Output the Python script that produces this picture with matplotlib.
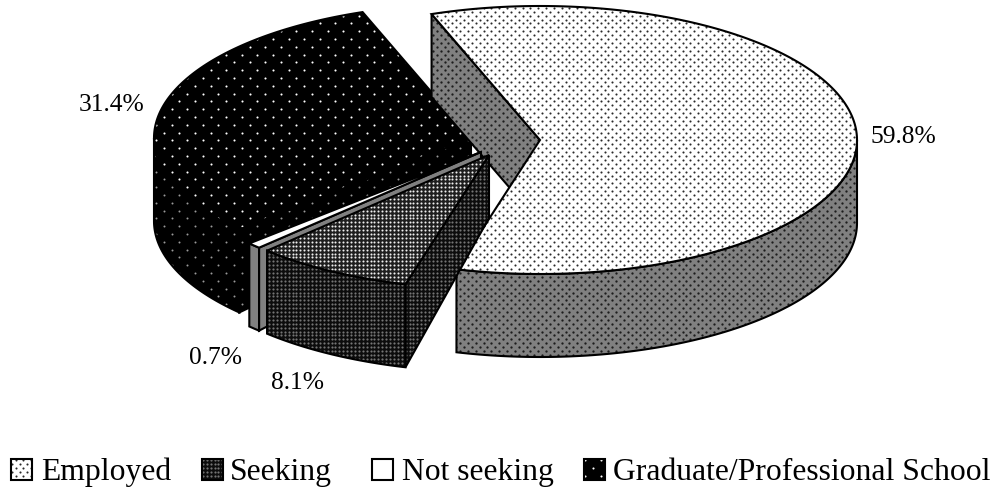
import numpy as np
import matplotlib
matplotlib.use("Agg")
import matplotlib.pyplot as plt
from matplotlib.patches import Polygon

categories = ["Employed", "Seeking", "Not seeking", "Graduate/Professional School"]
values = [59.8, 8.1, 0.7, 31.4]
value_labels = ["59.8%", "8.1%", "0.7%", "31.4%"]

START = -20.0
RX, RY = 317.0, 134.0
RIM_D, APEX_D = 83.0, 63.0
CENTERS = {"Employed": (540, 140), "Seeking": (489, 155), "Not seeking": (481, 152),
           "Graduate/Professional School": (471, 138)}
# (face, dot colour, column step, row step, staggered, dot diameter in px)
TOPS = {"Employed": ("white", "#2a2a2a", 7.8, 3.9, True, 2.1),
        "Seeking": ("#1e1e1e", "#eeeeee", 3.9, 3.9, False, 2.1),
        "Not seeking": ("white", None, 0, 0, False, 0),
        "Graduate/Professional School": ("black", "white", 15.6, 7.8, True, 2.1)}
WALLS = {"Employed": ("#808080", "#1c1c1c", 7.8, 3.9, True, 2.3),
         "Seeking": ("#0c0c0c", "#747474", 3.9, 3.9, False, 2.2),
         "Not seeking": ("#808080", None, 0, 0, False, 0),
         "Graduate/Professional School": ("black", "#9a9a9a", 15.6, 7.8, True, 2.0)}
LABEL_POS = {"59.8%": (903, 137), "8.1%": (297, 383), "0.7%": (216, 358), "31.4%": (112, 105)}
LEGEND_BOX = [11, 201.5, 372, 584]
LEGEND_TXT = [41, 230, 402, 613]
BOX = 21

plt.rcParams["font.family"] = ["Liberation Serif", "DejaVu Serif"]
fig = plt.figure(figsize=(10, 4.91), dpi=100)
ax = fig.add_axes([0, 0, 1, 1])
ax.set_xlim(0, 1000)
ax.set_ylim(491, 0)
ax.axis("off")
LW = 1.5

def pt(c, a, dy=0.0):
    r = np.radians(a)
    return np.array([c[0] + RX * np.sin(r), c[1] - RY * np.cos(r) + dy])

def arc(c, a0, a1, dy=0.0):
    n = max(2, int(abs(a1 - a0)) * 2)
    return np.array([pt(c, a, dy) for a in np.linspace(a0, a1, n)])

def texture(patch, xy, style, z):
    fc, dc, sx, sy, stag, d = style
    if dc is None:
        return
    xy = np.asarray(xy, float)
    xs, ys = [], []
    row0 = int(np.floor(xy[:, 1].min() / sy)) - 1
    row1 = int(np.ceil(xy[:, 1].max() / sy)) + 1
    for r in range(row0, row1 + 1):
        off = sx / 2 if (stag and r % 2) else 0.0
        col = np.arange(np.floor(xy[:, 0].min() / sx) - 1, np.ceil(xy[:, 0].max() / sx) + 2) * sx + off
        xs.append(col)
        ys.append(np.full(col.shape, r * sy))
    art = ax.scatter(np.concatenate(xs), np.concatenate(ys), s=(d * 0.72) ** 2, c=dc,
                     linewidths=0, marker="o", zorder=z)
    art.set_clip_path(patch)

def shape(xy, style, z, outline="black", lw=LW):
    p = Polygon(xy, closed=True, facecolor=style[0], edgecolor="none", lw=0, zorder=z)
    ax.add_patch(p)
    texture(p, xy, style, z + 0.05)
    if outline is not None:
        ax.add_patch(Polygon(xy, closed=True, facecolor="none", edgecolor=outline, lw=lw, zorder=z + 0.1,
                             joinstyle="miter"))

def cut_wall(c, a, style, z, depth=APEX_D):
    o = pt(c, a)
    shape([c, o, o + [0, RIM_D], (c[0], c[1] + depth)], style, z)

def rim_wall(c, a0, a1, style, z):
    lo, hi = max(a0, 90), min(a1, 270)
    shape(np.vstack([arc(c, lo, hi), arc(c, hi, lo, RIM_D)]), style, z)

def top(c, a0, a1, style, z):
    shape(np.vstack([[c], arc(c, a0, a1)]), style, z)

edges = START + np.concatenate([[0], np.cumsum(values)]) * 3.6
span = {n: (edges[i], edges[i + 1]) for i, n in enumerate(categories)}

g = categories[3]
cut_wall(CENTERS[g], span[g][0], WALLS[g], 1)
rim_wall(CENTERS[g], *span[g], WALLS[g], 1.2)
top(CENTERS[g], *span[g], TOPS[g], 1.4)

e = categories[0]
c = CENTERS[e]
cut_wall(c, span[e][0], WALLS[e], 2, depth=RIM_D)
rim_wall(c, *span[e], WALLS[e], 2.2)
top(c, *span[e], TOPS[e], 2.4)

n = categories[2]
cut_wall(CENTERS[n], span[n][0], WALLS[n], 3)
rim_wall(CENTERS[n], *span[n], WALLS[n], 3.2)
top(CENTERS[n], *span[n], TOPS[n], 3.4)

s = categories[1]
c = CENTERS[s]
cut_wall(c, span[s][0], WALLS[s], 4)
rim_wall(c, *span[s], WALLS[s], 4.2)
top(c, *span[s], TOPS[s], 4.4)

for lab in value_labels:
    x, y = LABEL_POS[lab]
    ax.text(x, y, lab, fontsize=18.4, ha="center", va="center", color="black", zorder=10)

for name, bx, tx in zip(categories, LEGEND_BOX, LEGEND_TXT):
    st = WALLS[name] if name == categories[1] else TOPS[name]
    rect = [(bx, 458.5), (bx + BOX, 458.5), (bx + BOX, 458.5 + BOX), (bx, 458.5 + BOX)]
    shape(rect, st, 5, lw=1.5)
    ax.text(tx, 480, name, fontsize=22.8, ha="left", va="baseline", color="black", zorder=10)

fig.savefig("out.png", dpi=100)
